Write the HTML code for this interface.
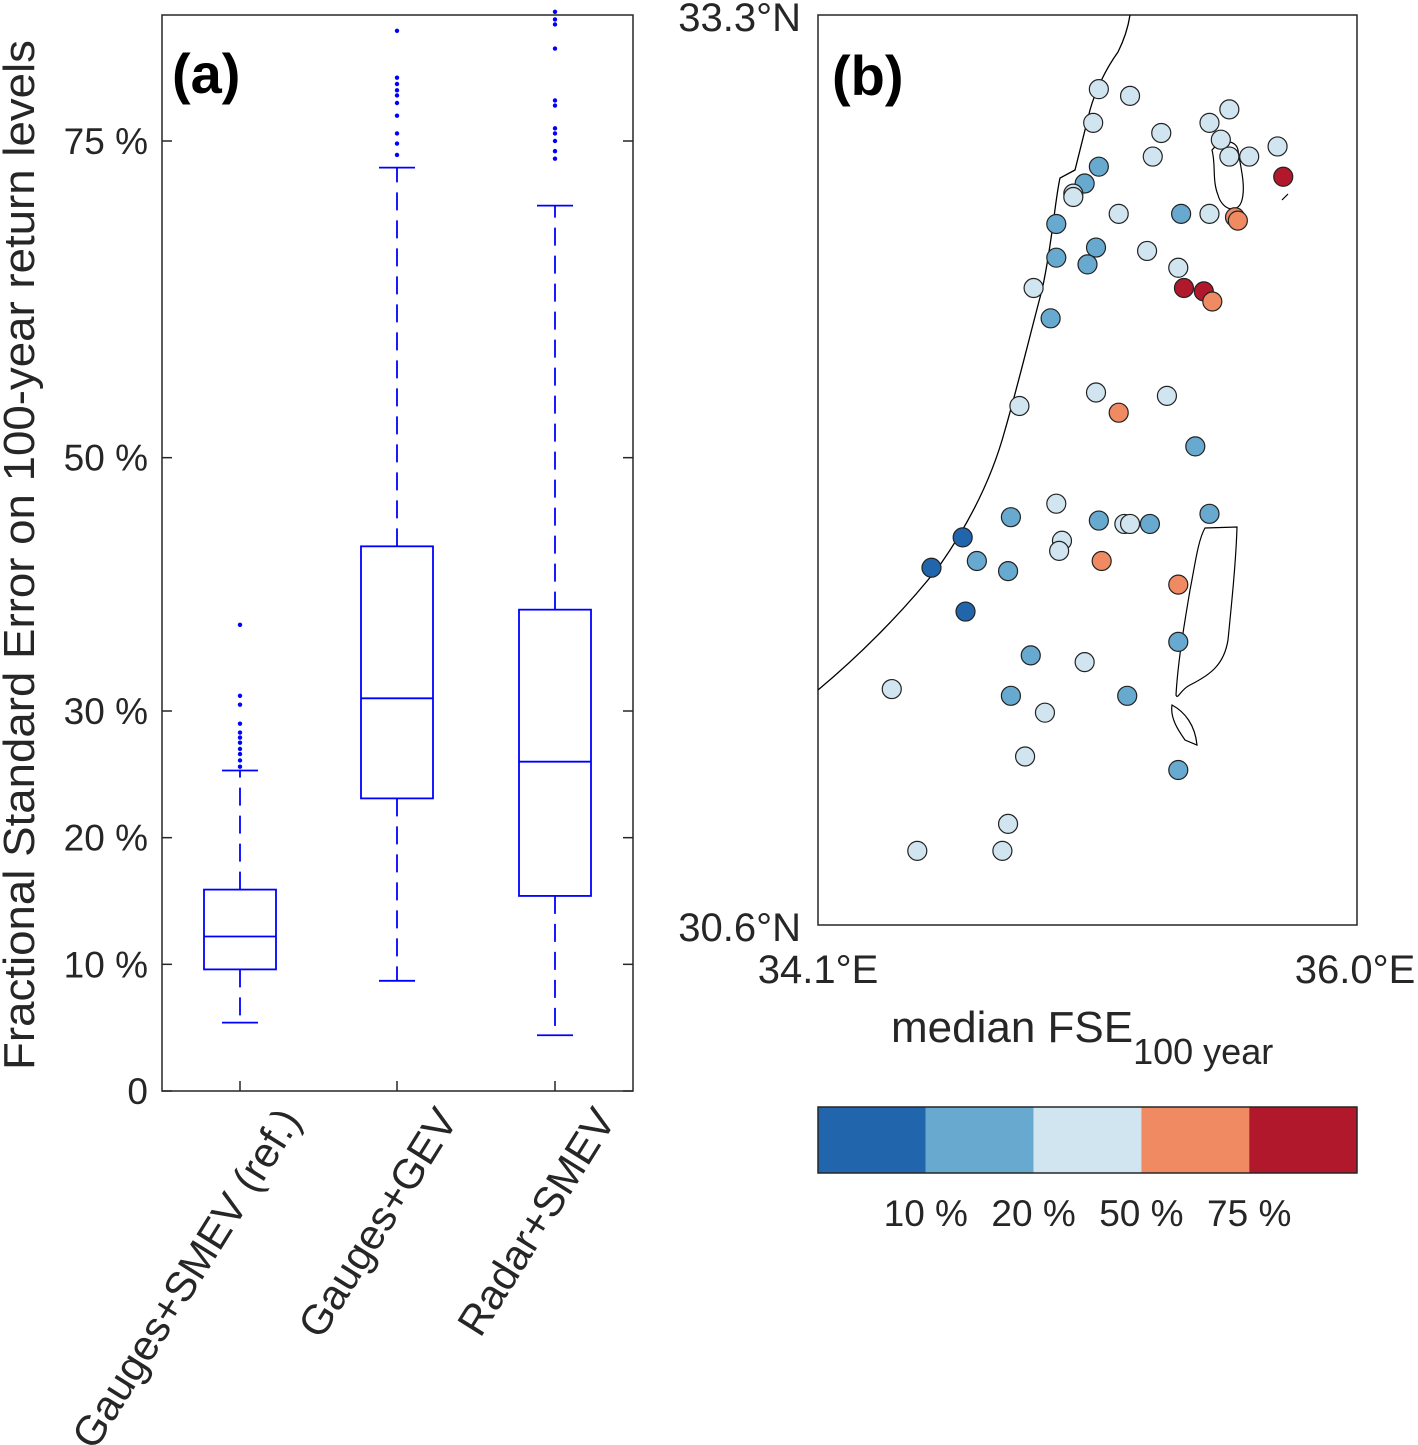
<!DOCTYPE html>
<html><head><meta charset="utf-8"><style>
html,body{margin:0;padding:0;background:#fff;}
svg{display:block;font-family:"Liberation Sans",Arial,sans-serif;}
</style></head><body>
<svg id="fig" width="1418" height="1445" viewBox="0 0 1418 1445">
<g id="pa"></g>
<g id="pb"></g>
</svg>
<script>
// ---------- Panel (a) data ----------
const categories = ["Gauges+SMEV (ref.)", "Gauges+GEV", "Radar+SMEV"];
const whiskerLow = [5.4, 8.7, 4.4];
const q1Values = [9.6, 23.1, 15.4];
const medianValues = [12.2, 31.0, 26.0];
const q3Values = [15.9, 43.0, 38.0];
const whiskerHigh = [25.3, 72.9, 69.9];
const outliers1 = [25.6, 26.1, 26.6, 27.0, 27.5, 27.9, 28.3, 29.0, 30.5, 31.2, 36.8];
const outliers2 = [73.9, 74.8, 75.6, 77.0, 78.0, 78.6, 79.0, 79.5, 80.0, 83.7];
const outliers3 = [73.6, 74.2, 75.0, 75.6, 76.0, 77.8, 78.2, 82.3, 84.2, 84.6, 85.2];
const yTickValues = [0, 10, 20, 30, 50, 75];
const yTickLabels = ["0", "10 %", "20 %", "30 %", "50 %", "75 %"];

// ---------- Panel (b) data ----------
const stationLon = [35.09,35.20,35.07,35.31,35.28,35.09,35.04,35.00,35.00,34.94,35.16,35.38,35.48,35.55,35.52,35.55,35.62,35.72,35.74,35.48,35.57,35.58,35.08,35.05,34.94,35.26,35.37,35.39,35.46,35.49,34.86,34.92,35.08,35.16,35.33,34.81,35.43,34.94,34.78,34.96,34.95,35.09,35.18,35.20,35.27,35.48,35.10,34.61,34.50,34.66,34.77,34.62,35.37,35.37,34.85,35.04,34.36,34.78,34.90,35.19,34.83,35.37,34.77,34.45,34.75];
const stationLat = [33.08,33.06,32.98,32.95,32.88,32.85,32.80,32.77,32.76,32.68,32.71,32.71,32.98,33.02,32.93,32.88,32.88,32.91,32.82,32.71,32.70,32.69,32.61,32.56,32.58,32.60,32.55,32.49,32.48,32.45,32.49,32.40,32.18,32.12,32.17,32.14,32.02,31.85,31.81,31.74,31.71,31.80,31.79,31.79,31.79,31.82,31.68,31.75,31.66,31.68,31.65,31.53,31.61,31.44,31.40,31.38,31.30,31.28,31.23,31.28,31.10,31.06,30.90,30.82,30.82];
const stationClass = [3,3,3,3,3,2,2,3,3,2,3,2,3,3,3,3,3,3,5,3,4,4,2,2,2,3,3,5,5,4,3,2,3,4,3,3,2,3,2,3,3,2,3,3,2,2,4,1,1,2,2,1,4,2,2,3,3,2,3,2,3,2,3,3,3];
const classColors = ["#2166ac","#67a9cf","#d1e5f0","#ef8a62","#b2182b"];
const colorbarLabels = ["10 %","20 %","50 %","75 %"];
const lonTicks = [34.1, 36.0];
const latTicks = [30.6, 33.3];

const NS = "http://www.w3.org/2000/svg";
function mk(parent, tag, attrs, text){
  const e = document.createElementNS(NS, tag);
  for (const k in attrs) e.setAttribute(k, attrs[k]);
  if (text !== undefined) e.textContent = text;
  parent.appendChild(e); return e;
}

// ---------- Panel (a) ----------
const pa = document.getElementById("pa");
const AX = {l:162, r:633, t:15, b:1091};
const yS = v => 1091 - v * (1091 - 141) / 75;
const xS = i => [240, 397, 555][i];
let e;
e = mk(pa, "rect", {x:AX.l, y:AX.t, width:AX.r-AX.l, height:AX.b-AX.t, fill:"none", stroke:"#262626", "stroke-width":1.5});


yTickValues.forEach((v, i) => {
  const y = yS(v);
  e = mk(pa, "line", {x1:AX.l, x2:AX.l+10, y1:y, y2:y, stroke:"#262626", "stroke-width":1.5});
  
  
  e = mk(pa, "line", {x1:AX.r-10, x2:AX.r, y1:y, y2:y, stroke:"#262626", "stroke-width":1.5});
  
  
  e = mk(pa, "text", {x:148, y:y+13, "text-anchor":"end", "font-size":37, fill:"#262626"}, yTickLabels[i]);
  
  
});
e = mk(pa, "text", {transform:"translate(34,555) rotate(-90)", "text-anchor":"middle", "font-size":44, fill:"#262626", textLength:1030, lengthAdjust:"spacingAndGlyphs"}, "Fractional Standard Error on 100-year return levels");


e = mk(pa, "text", {x:172, y:93, "font-size":56, "font-weight":"bold", fill:"#000"}, "(a)");


const outs = [outliers1, outliers2, outliers3];
const BW = 36;
categories.forEach((c, i) => {
  const x = xS(i);
  e = mk(pa, "line", {x1:x, x2:x, y1:AX.b, y2:AX.b-10, stroke:"#262626", "stroke-width":1.5});
  
  
  e = mk(pa, "text", {transform:`translate(${x+62},${1120}) rotate(-58)`, "text-anchor":"end", "font-size":42, fill:"#262626"}, c);
  
  
  const g = mk(pa, "g", {stroke:"#0000ff", "stroke-width":1.8, fill:"none"});
  
  
  e = mk(g, "rect", {x:x-BW, y:yS(q3Values[i]), width:2*BW, height:yS(q1Values[i])-yS(q3Values[i])});
  
  
  e = mk(g, "line", {x1:x-BW, x2:x+BW, y1:yS(medianValues[i]), y2:yS(medianValues[i])});
  
  
  e = mk(g, "line", {x1:x, x2:x, y1:yS(q3Values[i]), y2:yS(whiskerHigh[i]), "stroke-dasharray":"18,10"});
  
  
  e = mk(g, "line", {x1:x, x2:x, y1:yS(q1Values[i]), y2:yS(whiskerLow[i]), "stroke-dasharray":"18,10"});
  
  
  e = mk(g, "line", {x1:x-18, x2:x+18, y1:yS(whiskerHigh[i]), y2:yS(whiskerHigh[i])});
  
  
  e = mk(g, "line", {x1:x-18, x2:x+18, y1:yS(whiskerLow[i]), y2:yS(whiskerLow[i])});
  
  
  outs[i].forEach(v => {
    e = mk(pa, "circle", {cx:x, cy:yS(v), r:2.2, fill:"#0000ff"});
    
    
  });
});

// ---------- Panel (b) ----------
const pb = document.getElementById("pb");
const MB = {l:818, r:1357, t:15, b:925};
const lonS = v => MB.l + (v - lonTicks[0]) * (MB.r - MB.l) / (lonTicks[1] - lonTicks[0]);
const latS = v => MB.b - (v - latTicks[0]) * (MB.b - MB.t) / (latTicks[1] - latTicks[0]);
e = mk(pb, "rect", {x:MB.l, y:MB.t, width:MB.r-MB.l, height:MB.b-MB.t, fill:"#fff", stroke:"#262626", "stroke-width":1.5});


e = mk(pb, "path", {d:"M818,690 C860,655 905,610 940,565 C970,522 992,478 1005,430 C1018,385 1030,335 1042,290 C1052,245 1055,200 1060,178 L1075,170 C1080,150 1085,130 1090,110 C1095,92 1105,70 1118,52 C1124,40 1128,28 1130,15", fill:"none", stroke:"#000", "stroke-width":1.3});


e = mk(pb, "path", {d:"M1212,150 C1216,165 1212,180 1218,195 C1222,210 1238,215 1242,200 C1246,185 1240,165 1238,150 C1236,140 1222,138 1212,150 Z", fill:"none", stroke:"#000", "stroke-width":1.2});


e = mk(pb, "path", {d:"M1282,200 L1288,194", fill:"none", stroke:"#000", "stroke-width":1.2});


e = mk(pb, "path", {d:"M1205,528 L1237,527 C1236,560 1232,600 1228,640 C1224,665 1210,675 1190,685 C1180,690 1178,700 1176,695 C1178,660 1185,620 1190,590 C1195,565 1198,540 1205,528 Z M1172,705 C1185,712 1195,725 1197,745 L1185,740 C1178,730 1170,718 1172,705 Z", fill:"none", stroke:"#000", "stroke-width":1.2});


stationLon.forEach((lon, i) => {
  e = mk(pb, "circle", {cx:lonS(lon), cy:latS(stationLat[i]), r:9.5, fill:classColors[stationClass[i]-1], stroke:"#222", "stroke-width":1.2});
  
  
});
e = mk(pb, "text", {x:801, y:31, "text-anchor":"end", "font-size":40, fill:"#262626"}, "33.3°N");


e = mk(pb, "text", {x:801, y:941, "text-anchor":"end", "font-size":40, fill:"#262626"}, "30.6°N");


e = mk(pb, "text", {x:818, y:983, "text-anchor":"middle", "font-size":40, fill:"#262626"}, "34.1°E");


e = mk(pb, "text", {x:1355, y:983, "text-anchor":"middle", "font-size":40, fill:"#262626"}, "36.0°E");


e = mk(pb, "text", {x:832, y:95, "font-size":56, "font-weight":"bold", fill:"#000"}, "(b)");


// colorbar
const cbw = (MB.r - MB.l) / classColors.length;
classColors.forEach((c, i) => {
  e = mk(pb, "rect", {x:MB.l + i*cbw, y:1107, width:cbw, height:66, fill:c});
  
  
});
e = mk(pb, "rect", {x:MB.l, y:1107, width:MB.r-MB.l, height:66, fill:"none", stroke:"#262626", "stroke-width":1.5});


colorbarLabels.forEach((t, i) => {
  e = mk(pb, "text", {x:MB.l + (i+1)*cbw, y:1226, "text-anchor":"middle", "font-size":37, fill:"#262626"}, t);
  
  
});
e = mk(pb, "text", {x:891, y:1042, "font-size":44, fill:"#262626"});


mk(e, "tspan", {}, "median FSE");
mk(e, "tspan", {dy:22, "font-size":36}, "100 year");
</script>
</body></html>
